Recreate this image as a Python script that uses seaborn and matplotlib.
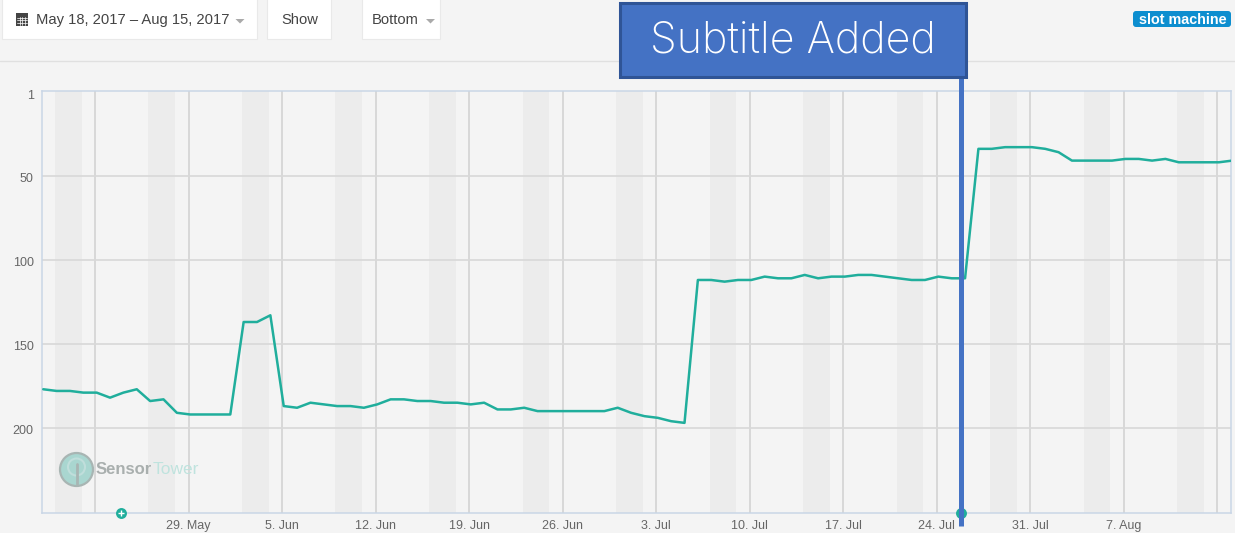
import seaborn as sns
import matplotlib.pyplot as plt
import matplotlib.dates as mdates
from matplotlib.patches import Circle, FancyBboxPatch, Polygon, Rectangle
from matplotlib.transforms import ScaledTranslation
import pandas as pd

ranks = [177, 178, 178, 179, 179, 182, 179, 177, 184, 183, 191, 192, 192, 192,
         192, 137, 137, 133, 187, 188, 185, 186, 187, 187, 188, 186, 183, 183, 184, 184,
         185, 185, 186, 185, 189, 189, 188, 190, 190, 190, 190, 190, 190, 188, 191, 193,
         194, 196, 197,
         112, 112, 113, 112, 112, 110, 111, 111, 109, 111, 110, 110, 109, 109, 110, 111,
         112, 112, 110, 111, 111,
         34, 34, 33, 33, 33, 34, 36, 41, 41, 41, 41, 40, 40, 41, 40, 42, 42, 42, 42, 41]
start_date = "2017-05-18"
end_date = "2017-08-15"
y_ticks = [1, 50, 100, 150, 200]
week_ticks = ["2017-05-22", "2017-05-29", "2017-06-05", "2017-06-12", "2017-06-19",
              "2017-06-26", "2017-07-03", "2017-07-10", "2017-07-17", "2017-07-24",
              "2017-07-31", "2017-08-07", "2017-08-14"]
week_labels = ["", "29. May", "5. Jun", "12. Jun", "19. Jun", "26. Jun", "3. Jul",
               "10. Jul", "17. Jul", "24. Jul", "31. Jul", "7. Aug", ""]
update_dates = ["2017-05-23 23:00", "2017-07-25 20:00"]
date_range_text = "May 18, 2017 – Aug 15, 2017"
callout_text = "Subtitle Added"
keyword_text = "slot machine"

BG = "#f4f4f4"
TEAL = "#20ae9c"
BLUE = "#4472c4"

sns.set_theme(style="whitegrid", rc={"axes.facecolor": BG, "figure.facecolor": BG})
plt.rcParams["font.family"] = ["Liberation Sans", "DejaVu Sans"]

df = pd.DataFrame({"date": pd.date_range(start_date, end_date) + pd.Timedelta(hours=3),
                   "rank": ranks})

fig = plt.figure(figsize=(12.35, 5.33), dpi=100)
W, H = 1235, 533
ax = fig.add_axes([42 / W, 1 - 513 / H, (1231 - 42) / W, (513 - 91) / H])

# grey bands, one per week
for fri in pd.date_range("2017-05-19", end_date, freq="7D"):
    ax.axvspan(fri, fri + pd.Timedelta(days=2), color="#ececec", lw=0, zorder=0)

sns.lineplot(data=df, x="date", y="rank", color=TEAL, linewidth=1.8, ax=ax, zorder=3)

ax.set_xlim(pd.Timestamp("2017-05-18 00:45"), pd.Timestamp("2017-08-15 00:45"))
ax.set_ylim(250.6, -0.4)
ax.set_yticks(y_ticks)
ax.set_xticks(pd.to_datetime(week_ticks))
ax.set_xticklabels(week_labels)
ax.set_xlabel("")
ax.set_ylabel("")
ax.set_axisbelow(True)
ax.grid(True, axis="x", color="#d0d0d0", linewidth=1.1)
ax.grid(True, axis="y", color="#d8d8d8", linewidth=1.2)
ax.get_ygridlines()[0].set_visible(False)
ax.tick_params(length=0, labelsize=9, labelcolor="#666666")
ax.tick_params(axis="x", pad=5)
ax.tick_params(axis="y", pad=6)
nudge = ScaledTranslation(0, -1.5 / 100, fig.dpi_scale_trans)
for lab in ax.get_yticklabels():
    lab.set_transform(lab.get_transform() + nudge)
for s in ax.spines.values():
    s.set_color("#c9d6e6")
    s.set_linewidth(1.1)

update_x = mdates.date2num(pd.to_datetime(update_dates))
ax.scatter(update_x, [250.6, 250.6], s=62, color=TEAL, clip_on=False, zorder=5, linewidths=0)
ax.scatter(update_x[:1], [250.6], s=16, marker="+", color="white", clip_on=False, zorder=6, linewidths=1)

# everything around the chart, placed in pixels
top = fig.add_axes([0, 0, 1, 1], facecolor="none")
top.set_xlim(0, W)
top.set_ylim(H, 0)
top.axis("off")

top.plot([0, W], [61, 61], color="#e0e0e0", lw=1)
for x0, x1 in [(2, 257), (267, 331), (362, 440)]:
    top.add_patch(Rectangle((x0, -2), x1 - x0, 41, fc="white", ec="#e9e9e9", lw=0.8))

top.add_patch(Rectangle((16, 12.5), 12, 13, fc="#444444", lw=0))
for yy in (17.5, 20, 22.5):
    top.plot([17, 27], [yy, yy], color="white", lw=0.5)
for xx in (19.5, 22, 24.5):
    top.plot([xx, xx], [16.5, 25], color="white", lw=0.5)

btn = dict(color="#444444", fontsize=10.6, va="center", ha="left")
top.text(35.5, 20, date_range_text, **btn)
top.text(281, 20, "Show", **btn)
top.text(372, 20, "Bottom", **btn)
for cx in (240, 430.5):
    top.add_patch(Polygon([(cx - 4.5, 19), (cx + 4.5, 19), (cx, 23.5)], fc="#aaaaaa", lw=0))

top.add_patch(FancyBboxPatch((1133, 11), 98, 16, boxstyle="round,pad=0,rounding_size=3",
                             fc="#0d8ecf", lw=0))
top.text(1182.5, 19.5, keyword_text, color="white", fontsize=10.4, fontweight="bold", ha="center", va="center")

# callout and its stem
top.plot([961, 961], [78, 526], color=BLUE, lw=3.6, solid_capstyle="butt", zorder=2.5)
top.add_patch(Rectangle((620, 3), 346, 74, fc=BLUE, ec="#2f5496", lw=2.2, zorder=3))
top.text(793, 41, callout_text, color="white", fontsize=31, family="Inter",
         fontweight="light", ha="center", va="center", zorder=4)

# SensorTower watermark
top.add_patch(Circle((76.5, 469.5), 16.5, fc="#a9d6d0", ec="#a8b5b3", lw=1.6))
top.add_patch(Circle((76.5, 467), 8.5, fc="none", ec="#c0dedb", lw=1.5))
top.plot([76.5, 76.5], [464, 484], color="#a8b5b3", lw=2)
top.text(96, 469.5, "Sensor", color="#a9afae", fontsize=12, fontweight="bold", ha="left", va="center")
top.text(152.5, 469.5, "Tower", color="#bfe3de", fontsize=12.5, ha="left", va="center")

fig.savefig("out.png", dpi=100)
